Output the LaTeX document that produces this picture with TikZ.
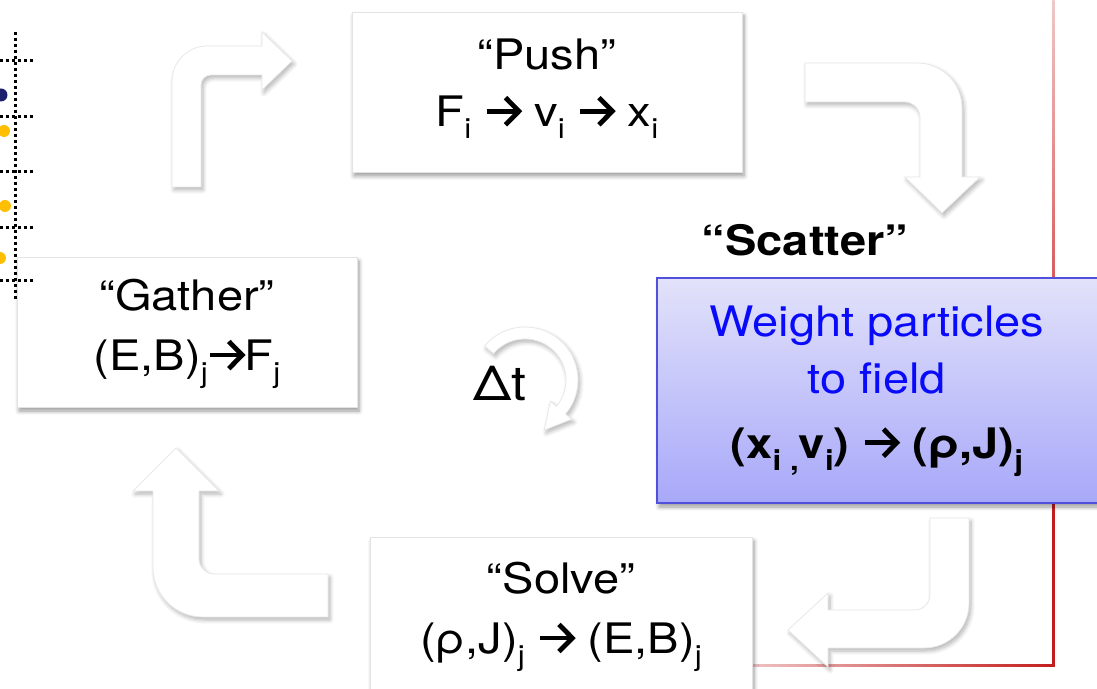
\documentclass[tikz,border=0pt]{standalone}
\usepackage{fontspec}
\setmainfont{TeX Gyre Heros}[FakeStretch=1.12]
\usetikzlibrary{shadows.blur}
\newsavebox\rarrbox
\sbox\rarrbox{\tikz[x=1pt,y=1pt,baseline=-7.8pt]{\draw[line width=2.4pt] (0,0)--(16,0); \draw[line width=2.4pt,miter limit=10] (9.3,6.8)--(16,0)--(9.3,-6.8);}}
\newcommand\rarr{\usebox\rarrbox}
\newcommand\lo[1]{\raisebox{-6pt}{\fontsize{14}{14}\selectfont #1}}
\definecolor{navydot}{RGB}{30,30,110}
\definecolor{yellowdot}{RGB}{255,190,0}
\definecolor{scborder}{RGB}{80,80,220}
\definecolor{sctop}{RGB}{226,226,250}
\definecolor{scbot}{RGB}{168,168,250}
\definecolor{redlight}{RGB}{240,200,200}
\definecolor{redmid}{RGB}{215,90,90}
\definecolor{reddark}{RGB}{195,30,30}
\definecolor{textblue}{RGB}{10,10,250}
\begin{document}
\begin{tikzpicture}[x=0.5pt,y=-0.5pt,font=\fontsize{21}{28.5}\selectfont]
\tikzset{
  whitebox/.style={draw=gray!22, line width=0.4pt, fill=white, inner sep=0pt,
    blur shadow={shadow xshift=1pt, shadow yshift=-2pt, shadow blur steps=6, shadow opacity=40}},
  scatterbox/.style={draw=scborder, line width=0.8pt, top color=sctop, bottom color=scbot, inner sep=0pt,
    blur shadow={shadow xshift=1pt, shadow yshift=-2pt, shadow blur steps=6, shadow opacity=40}},
  blockarrow/.style={fill=white, draw=gray!18, line width=0.4pt,
    blur shadow={shadow xshift=1pt, shadow yshift=-1.5pt, shadow blur steps=6, shadow opacity=30}},
  lbl/.style={align=center, inner sep=0pt},
  dotgrid/.style={line width=1.5pt, dash pattern=on 1.5pt off 1.5pt, black}
}
\useasboundingbox (0,0) rectangle (1097,689);
\clip (0,0) rectangle (1097,689);

% red frame line (behind boxes)
\shade[top color=redlight, bottom color=redmid] (1052,0) rectangle (1054.5,285);
\fill[reddark] (1052,285) rectangle (1054.5,666.5);
\shade[left color=redlight, right color=reddark] (740,664) rectangle (1054.5,666.5);

% boxes
\node[whitebox, minimum width=195pt, minimum height=80pt] (push) at (547,92) {};
\node[whitebox, minimum width=170pt, minimum height=75pt] (gather) at (187,332) {};
\node[whitebox, minimum width=191pt, minimum height=80pt] (solve) at (561,617) {};
\node[scatterbox, minimum width=226.5pt, minimum height=112.5pt] (scatter) at (883.5,390.5) {};

% block arrows
\draw[blockarrow] (172,187) -- (172,81) .. controls (172,62) and (188,46) .. (207,46)
  -- (262,46) -- (262,32) -- (292,61) -- (262,90) -- (262,75) -- (211,75)
  .. controls (205.5,75) and (201,79.5) .. (201,85) -- (201,187) -- cycle;
\draw[blockarrow] (805,63) -- (917,63) .. controls (942,63) and (962,83) .. (962,108)
  -- (962,177) -- (980,177) -- (942,213) -- (905,177) -- (920,177) -- (920,117)
  .. controls (920,109) and (913,102) .. (905,102) -- (805,102) -- cycle;
\draw[blockarrow] (930,518) -- (969,518) -- (969,603) .. controls (969,628) and (949,648) .. (924,648)
  -- (828,648) -- (828,667) -- (788,630) -- (828,593) -- (828,610) -- (915,610)
  .. controls (923,610) and (930,603) .. (930,595) -- cycle;
\draw[blockarrow] (328,574) -- (328,617) -- (203,617) .. controls (175,617) and (153,595) .. (153,567)
  -- (153,491) -- (133,491) -- (176,448) -- (219,491) -- (199,491) -- (199,559)
  .. controls (199,567) and (206,574) .. (214,574) -- cycle;
\begin{scope}[shift={(525,380)}, x=0.5pt, y=0.5pt]
  \draw[blockarrow] (140:53) arc[start angle=140, end angle=-40, radius=53]
    -- (-40:61) -- (19.3,-50.1) -- (-40:33) -- (-40:41)
    arc[start angle=-40, end angle=140, radius=41] -- cycle;
\end{scope}

% texts
\node[lbl] (pushtxt) at (547,89) {“Push”\\F\lo{i} \rarr{} v\lo{i} \rarr{} x\lo{i}};
\node[lbl] (gathertxt) at (187,334) {“Gather”\\[1.5pt](E,B)\lo{j}\rarr F\lo{j}};
\node[lbl] (solvetxt) at (561,617) {“Solve”\\[1.5pt](ρ,J)\lo{j} \rarr{} (E,B)\lo{j}};
\node[lbl, font=\fontsize{21}{28.5}\selectfont\bfseries] (scatterlbl) at (805,240) {“Scatter”};
\node[lbl] (scattertxt) at (877,391) {{\color{textblue}Weight particles}\\{\color{textblue}to field}\\[4pt]{\bfseries (x\lo{i ,}v\lo{i}) \rarr{} (ρ,J)\lo{j}}};
\node[lbl, font=\fontsize{24}{28}\selectfont] (dt) at (500,384) {Δt};

% dotted grid and particles
\draw[dotgrid] (15,32) -- (15,300);
\foreach \yy in {61,117,172,228,281} \draw[dotgrid] (0,\yy) -- (33,\yy);
\fill[navydot] (1,95) circle[radius=6.5];
\fill[yellowdot] (4,131) circle[radius=6];
\fill[yellowdot] (5,206) circle[radius=6];
\fill[yellowdot] (0,258) circle[radius=6];
\end{tikzpicture}
\end{document}
